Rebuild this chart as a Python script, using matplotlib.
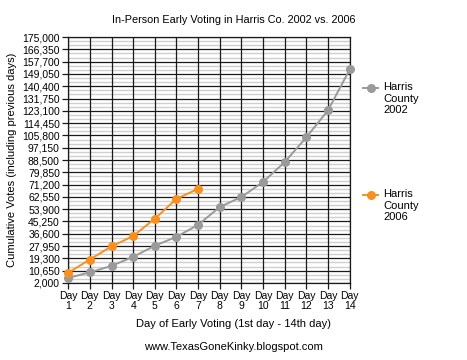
import numpy as np
import matplotlib
matplotlib.use("Agg")
import matplotlib.pyplot as plt
from matplotlib.lines import Line2D

plt.rcParams['font.family'] = ['Liberation Sans', 'DejaVu Sans']

days = list(range(1, 15))
day_labels = ["Day\n%d" % d for d in days]
votes_2002 = [5500, 9500, 14000, 20400, 28200, 34500, 42900, 55500, 62500, 73100, 87100, 104600, 123600, 152300]
votes_2006 = [9100, 18500, 27700, 35000, 47200, 61200, 68200]
y_ticks = [2000, 10650, 19300, 27950, 36600, 45250, 53900, 62550, 71200, 79850, 88500,
           97150, 105800, 114450, 123100, 131750, 140400, 149050, 157700, 166350, 175000]
series_names = ["Harris\nCounty\n2002", "Harris\nCounty\n2006"]
colors = ["#9a9a9a", "#f7901e"]

fig = plt.figure(figsize=(4.67, 3.6), dpi=100)
ax = fig.add_axes([0.146, 0.214, 0.603, 0.683])

# light minor lines between the major ones
minor = []
for a, b in zip(y_ticks[:-1], y_ticks[1:]):
    minor += list(np.linspace(a, b, 4)[1:-1])
for m in minor:
    ax.axhline(m, color="#cfcfcf", lw=1.0, zorder=0)
for t in y_ticks:
    ax.axhline(t, color="#1a1a1a", lw=0.9, zorder=1)
for d in days:
    ax.axvline(d, color="#1a1a1a", lw=0.9, zorder=1)

ax.plot(days[:len(votes_2002)], votes_2002, color=colors[0], lw=1.4, marker="o",
        ms=5.5, zorder=3, clip_on=False)
ax.plot(days[:len(votes_2006)], votes_2006, color=colors[1], lw=1.4, marker="o",
        ms=5.5, zorder=4, clip_on=False)

ax.set_xlim(1, 14)
ax.set_ylim(2000, 175000)
ax.set_xticks(days)
ax.set_xticklabels(day_labels, fontsize=7.5, linespacing=0.95)
ax.set_yticks(y_ticks)
ax.set_yticklabels(["{:,}".format(t) for t in y_ticks], fontsize=7.5)
ax.tick_params(axis="both", direction="out", length=4, width=0.9, color="#1a1a1a", pad=2)
for s in ax.spines.values():
    s.set_color("#1a1a1a")
    s.set_linewidth(0.9)

# title and x label are centred on the whole picture
fig.text(0.5, 0.945, "In-Person Early Voting in Harris Co. 2002 vs. 2006", fontsize=7.8,
         ha="center", va="center")
fig.text(0.5, 0.1, "Day of Early Voting (1st day - 14th day)", fontsize=8,
         ha="center", va="center")
ax.set_ylabel("Cumulative Votes (including previous days)", fontsize=8, labelpad=4)

# legend on the right, marker aligned with first text line
leg_y = [0.755, 0.458]
for name, col, y in zip(series_names, colors, leg_y):
    fig.add_artist(Line2D([0.777, 0.81], [y, y], color=col, lw=1.4, transform=fig.transFigure))
    fig.add_artist(Line2D([0.7935], [y], color=col, marker="o", ms=5.5, transform=fig.transFigure))
    fig.text(0.82, y + 0.016, name, fontsize=8, va="top", ha="left", linespacing=1.15,
             transform=fig.transFigure)

fig.text(0.5, 0.028, "www.TexasGoneKinky.blogspot.com", fontsize=8, ha="center")

fig.savefig("out.png", dpi=100)
